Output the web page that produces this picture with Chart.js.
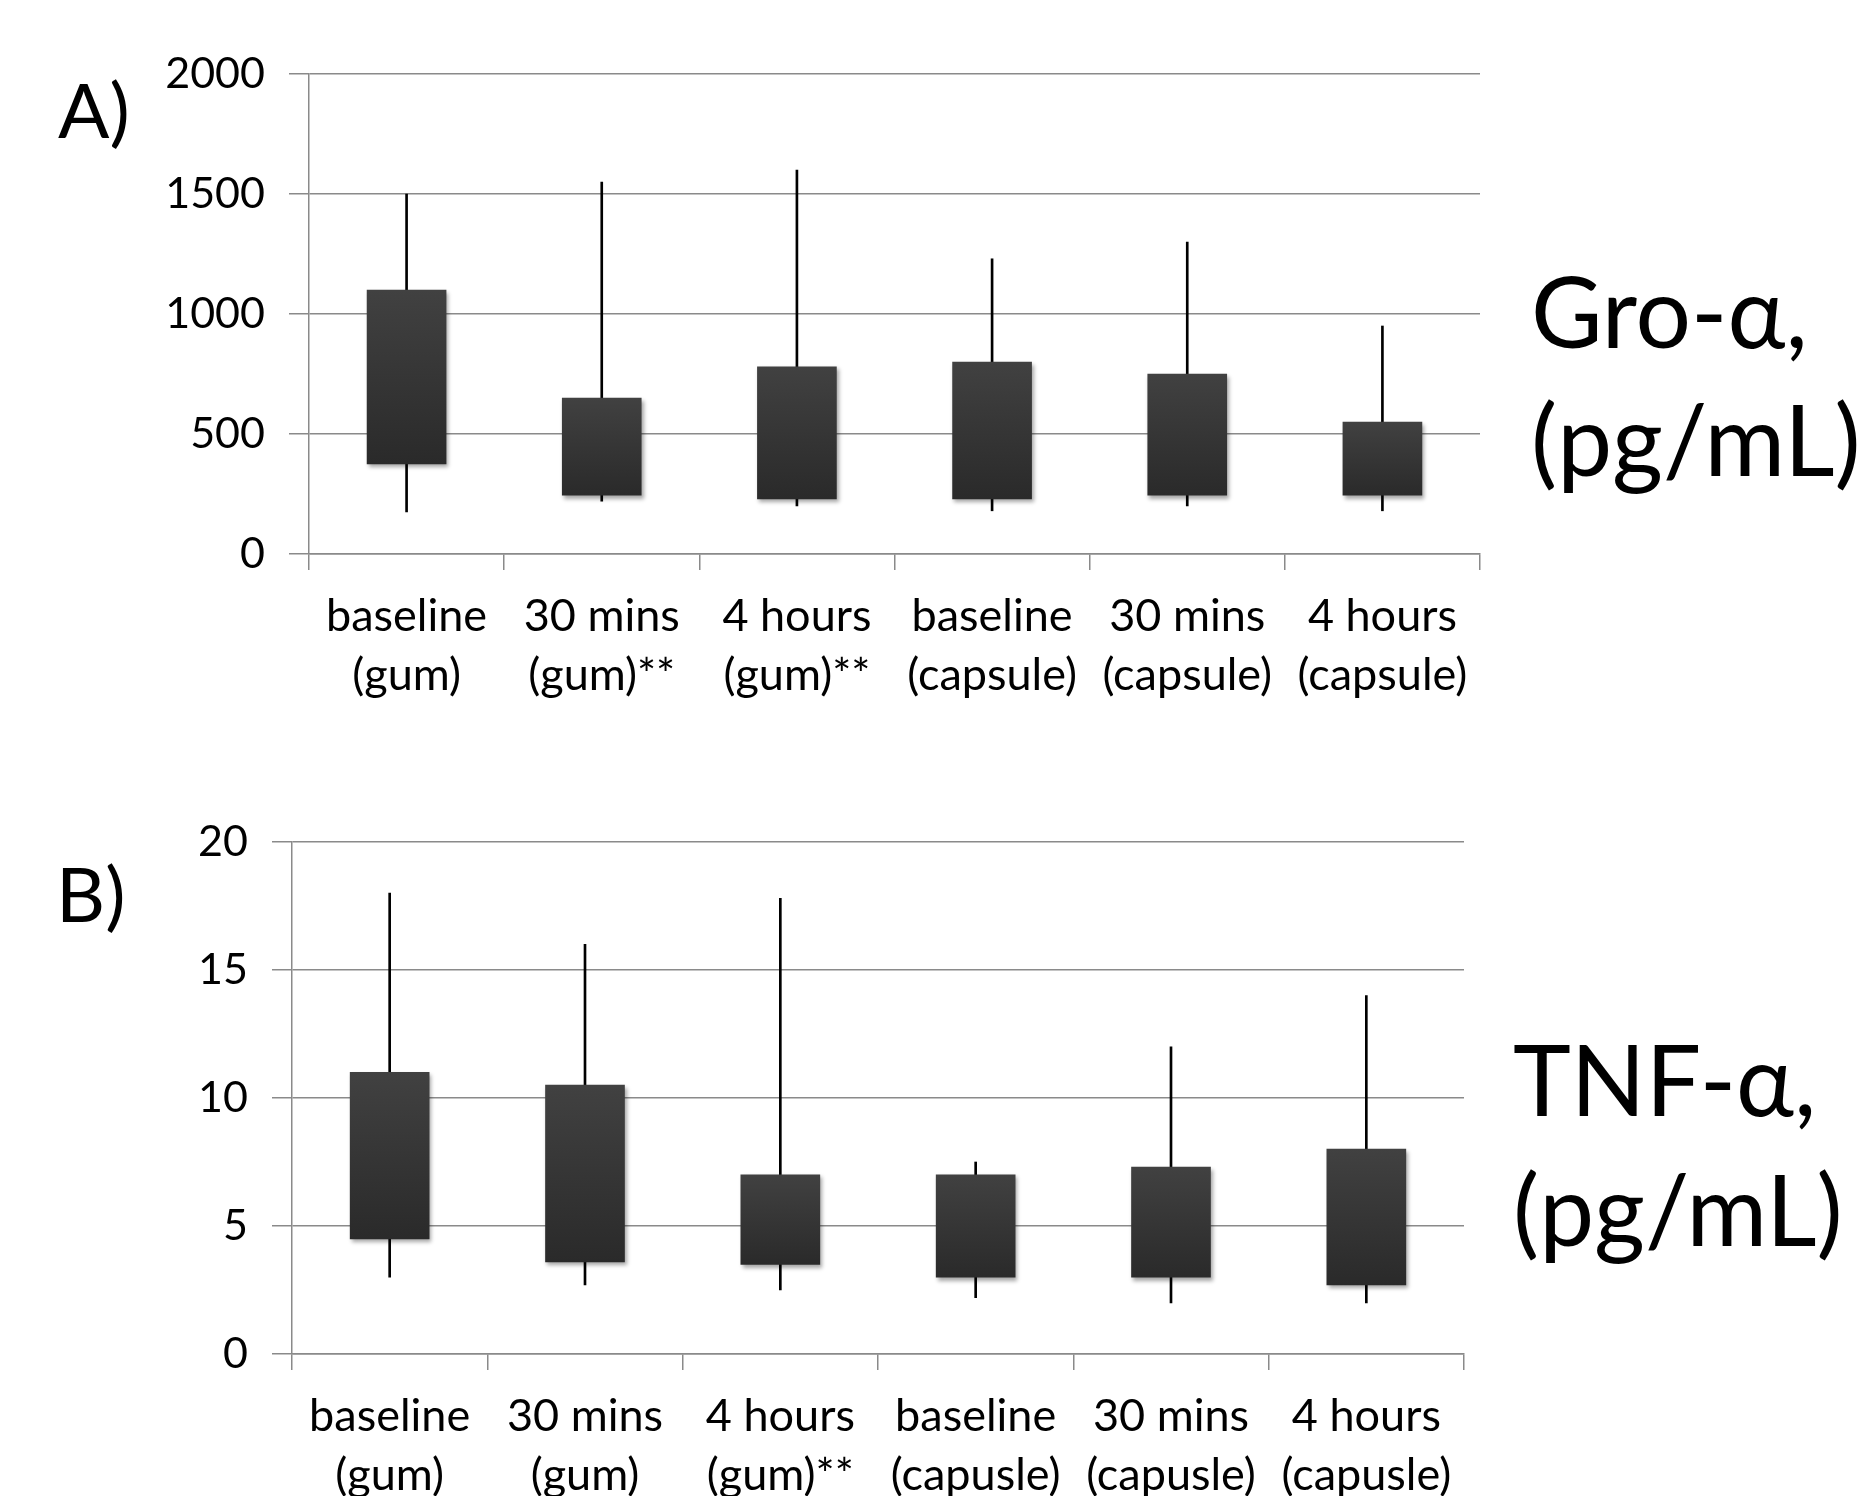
<!DOCTYPE html>
<html>
<head>
<meta charset="utf-8">
<script src="https://cdn.jsdelivr.net/npm/chart.js@4.4.1/dist/chart.umd.min.js"></script>
<style>
  body { margin: 0; background: #fff; width: 1876px; height: 1496px; position: relative; overflow: hidden; }
  canvas { position: absolute; }
  .lbl { position: absolute; font-family: Lato, sans-serif; color: #000; white-space: nowrap; }
</style>
</head>
<body>
<div class="lbl" style="left:58px; top:63px; font-size:76px; line-height:91px;">A)</div>
<div class="lbl" style="left:56px; top:847px; font-size:76px; line-height:91px;">B)</div>
<div class="lbl" style="left:1531px; top:246px; font-size:98px; line-height:128px;">Gro-α,<br>(pg/mL)</div>
<div class="lbl" style="left:1513px; top:1013px; font-size:98px; line-height:130px;">TNF-α,<br>(pg/mL)</div>

<canvas id="groChart" width="1500" height="740" style="left:0; top:0;"></canvas>
<canvas id="tnfChart" width="1484" height="736" style="left:0; top:760px;"></canvas>

<script>
// Categories
const groLabels = [['baseline', '(gum)'], ['30 mins', '(gum)**'], ['4 hours', '(gum)**'],
                   ['baseline', '(capsule)'], ['30 mins', '(capsule)'], ['4 hours', '(capsule)']];
const tnfLabels = [['baseline', '(gum)'], ['30 mins', '(gum)'], ['4 hours', '(gum)**'],
                   ['baseline', '(capusle)'], ['30 mins', '(capusle)'], ['4 hours', '(capusle)']];

// Gro-alpha (pg/mL)
const groMin = [175, 220, 200, 180, 200, 180];
const groQ1 = [375, 245, 230, 230, 245, 245];
const groQ3 = [1100, 650, 780, 800, 750, 550];
const groMax = [1500, 1550, 1600, 1230, 1300, 950];

// TNF-alpha (pg/mL)
const tnfMin = [3.0, 2.7, 2.5, 2.2, 2.0, 2.0];
const tnfQ1 = [4.5, 3.6, 3.5, 3.0, 3.0, 2.7];
const tnfQ3 = [11.0, 10.5, 7.0, 7.0, 7.3, 8.0];
const tnfMax = [18.0, 16.0, 17.8, 7.5, 12.0, 14.0];

// Axis ticks
const groTicks = { min: 0, max: 2000, step: 500 };
const tnfTicks = { min: 0, max: 20, step: 5 };

const gridColor = '#8a8a8a';

// shadow under the boxes
const boxShadow = {
  id: 'boxShadow',
  beforeDatasetDraw(chart, args) {
    if (args.index !== 1) return;
    const ctx = chart.ctx;
    ctx.save();
    ctx.shadowColor = 'rgba(0,0,0,0.35)';
    ctx.shadowBlur = 4;
    ctx.shadowOffsetX = 2;
    ctx.shadowOffsetY = 3;
  },
  afterDatasetDraw(chart, args) {
    if (args.index !== 1) return;
    chart.ctx.restore();
  }
};

function boxFill(context) {
  const chart = context.chart;
  const y = chart.scales.y;
  const v = context.raw;
  if (!y || !v || !chart.chartArea) return '#363636';
  const top = y.getPixelForValue(v[1]);
  const bot = y.getPixelForValue(v[0]);
  if (!isFinite(top) || !isFinite(bot) || top === bot) return '#363636';
  const g = chart.ctx.createLinearGradient(0, top, 0, bot);
  g.addColorStop(0, '#414141');
  g.addColorStop(1, '#2a2a2a');
  return g;
}

function makeChart(id, labels, mins, q1, q3, maxs, ticks, yWidth, xHeight, padTop, padRight) {
  const whiskers = mins.map((m, i) => [m, maxs[i]]);
  const boxes = q1.map((q, i) => [q, q3[i]]);
  return new Chart(document.getElementById(id), {
    type: 'bar',
    data: {
      labels: labels,
      datasets: [{
        data: whiskers,
        backgroundColor: '#000',
        barThickness: 2,
        grouped: false,
        order: 2
      }, {
        data: boxes,
        backgroundColor: boxFill,
        barThickness: 79,
        grouped: false,
        order: 1
      }]
    },
    options: {
      responsive: false,
      animation: false,
      layout: { padding: { top: padTop, right: padRight, left: 0, bottom: 0 } },
      plugins: { legend: { display: false }, tooltip: { enabled: false } },
      scales: {
        x: {
          offset: true,
          afterFit: s => { s.height = xHeight; },
          grid: { offset: true, drawOnChartArea: false, drawTicks: true, tickLength: 16, color: gridColor, lineWidth: 1.5 },
          border: { display: true, color: gridColor, width: 1.5 },
          ticks: { color: '#000', padding: 16, maxRotation: 0, autoSkip: false,
                   font: { family: 'Lato', size: 45, lineHeight: 1.333 } }
        },
        y: {
          min: ticks.min,
          max: ticks.max,
          afterFit: s => { s.width = yWidth; },
          grid: { color: gridColor, lineWidth: 1.5, tickLength: 20 },
          border: { display: true, color: gridColor, width: 1.5 },
          ticks: { stepSize: ticks.step, color: '#000', padding: 24,
                   callback: v => String(v),
                   font: { family: 'Lato', size: 43 } }
        }
      }
    },
    plugins: [boxShadow]
  });
}

makeChart('groChart', groLabels, groMin, groQ1, groQ3, groMax, groTicks, 309, 186, 74, 20);
makeChart('tnfChart', tnfLabels, tnfMin, tnfQ1, tnfQ3, tnfMax, tnfTicks, 292, 142, 82, 20);
</script>
</body>
</html>
